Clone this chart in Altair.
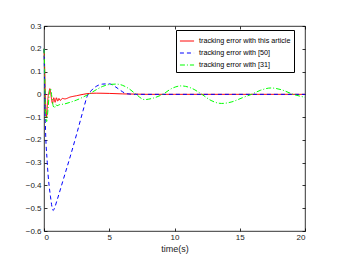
import altair as alt
import pandas as pd

series_names = ["tracking error with this article", "tracking error with [50]", "tracking error with [31]"]
colors = ["#ff0000", "#0000ff", "#00ff00"]
dashes = [[1, 0], [4, 3], [5, 2, 1, 2]]

t_red = [0, 0.05, 0.1, 0.15, 0.2, 0.25, 0.3, 0.4, 0.45, 0.55, 0.65, 0.75, 0.85, 0.95, 1.05, 1.15, 1.25, 1.4, 1.6, 2.0, 2.5, 3.0, 3.5, 4.0, 5.0, 6.0, 7.0, 8.0, 10, 12, 15, 20]
v_red = [0.2, 0.12, 0.0, -0.07, -0.1, -0.06, -0.02, 0.015, 0.025, -0.01, -0.04, -0.015, -0.035, -0.015, -0.03, -0.018, -0.027, -0.018, -0.02, -0.012, -0.006, 0.0, 0.004, 0.005, 0.004, 0.002, 0.001, 0.0, 0.0, 0.0, 0.0, 0.0]

t_blue = [0, 0.05, 0.1, 0.25, 0.5, 0.7, 0.8, 1.0, 1.5, 2.0, 2.5, 3.0, 3.3, 3.6, 4.0, 4.5, 5.0, 5.5, 6.0, 6.3, 7.0, 10, 15, 20]
v_blue = [0.2, 0.05, -0.12, -0.3, -0.45, -0.51, -0.5, -0.465, -0.37, -0.275, -0.175, -0.07, -0.01, 0.015, 0.035, 0.045, 0.046, 0.032, 0.012, 0.003, 0.0, 0.0, 0.0, 0.0]

t_green = [0, 0.05, 0.1, 0.2, 0.3, 0.4, 0.5, 0.6, 0.7, 0.8, 0.9, 1.0, 1.2, 1.5, 2.0, 2.5, 3.0, 3.5, 4.0, 4.5, 5.0, 5.5, 6.0, 6.5, 7.0, 7.7, 8.4, 9.1, 9.8, 10.5, 11.3, 12.1, 12.8, 13.6, 14.4, 15.2, 15.9, 16.6, 17.4, 18.2, 19.1, 20]
v_green = [0.2, 0.1, -0.05, -0.12, -0.07, 0.0, 0.025, -0.01, -0.05, -0.06, -0.045, -0.05, -0.045, -0.043, -0.035, -0.025, -0.012, 0.003, 0.02, 0.035, 0.043, 0.045, 0.04, 0.025, 0.003, -0.023, -0.016, 0.0, 0.026, 0.037, 0.027, 0.0, -0.027, -0.04, -0.033, -0.015, 0.0, 0.018, 0.028, 0.02, 0.0, -0.013]

rows = []
for name, ts, vs in [(series_names[0], t_red, v_red), (series_names[1], t_blue, v_blue), (series_names[2], t_green, v_green)]:
    for i, (t, v) in enumerate(zip(ts, vs)):
        rows.append({"series": name, "t": t, "v": v, "i": i})
df = pd.DataFrame(rows)

font = "Liberation Sans"

xscale = alt.Scale(domain=[0, 20], nice=False, zero=False)
yscale = alt.Scale(domain=[-0.6, 0.3], nice=False, zero=False)

lines = alt.Chart(df).mark_line(strokeWidth=1, interpolate="monotone").encode(
    x=alt.X("t:Q", scale=xscale,
            axis=alt.Axis(orient="bottom", values=[0, 5, 10, 15, 20], title="time(s)", domain=False,
                          offset=-3, tickSize=3, labelPadding=2, grid=False,
                          labelFont=font, labelFontSize=8, labelColor="#222",
                          titleFont=font, titleFontSize=9, titleFontWeight="normal", titlePadding=3, titleColor="#222")),
    y=alt.Y("v:Q", scale=yscale,
            axis=alt.Axis(orient="left", values=[-0.6, -0.5, -0.4, -0.3, -0.2, -0.1, 0, 0.1, 0.2, 0.3],
                          title=None, domain=False, offset=-3, tickSize=3, labelPadding=3, grid=False,
                          labelFont=font, labelFontSize=8, labelColor="#222",
                          labelExpr="datum.value == 0 ? '0' : format(datum.value, '.1f')")),
    color=alt.Color("series:N", scale=alt.Scale(domain=series_names, range=colors),
                    legend=alt.Legend(title=None, orient="none", legendX=132, legendY=4,
                                      symbolType="stroke", symbolSize=200, symbolStrokeWidth=1,
                                      labelFont=font, labelFontSize=7.2, labelLimit=200,
                                      strokeColor="#000", fillColor="#fff", padding=3, rowPadding=0,
                                      labelOffset=4)),
    strokeDash=alt.StrokeDash("series:N", scale=alt.Scale(domain=series_names, range=dashes), legend=None),
    order="i:Q",
)

frame = alt.Chart(df).mark_line(strokeOpacity=0).encode(
    x=alt.X("t:Q", scale=xscale,
            axis=alt.Axis(orient="top", values=[0, 5, 10, 15, 20], labels=False, title=None, domain=False,
                          offset=-3, tickSize=3, grid=False)),
    y=alt.Y("v:Q", scale=yscale,
            axis=alt.Axis(orient="right", values=[-0.6, -0.5, -0.4, -0.3, -0.2, -0.1, 0, 0.1, 0.2, 0.3],
                          labels=False, title=None, domain=False, offset=-3, tickSize=3, grid=False)),
    detail="series:N",
    order="i:Q",
)

chart = alt.layer(frame, lines).resolve_axis(x="independent", y="independent").properties(
    width=261, height=205,
    autosize=alt.AutoSizeParams(type="none"),
    padding={"left": 36, "top": 18, "right": 20, "bottom": 30},
).configure_view(stroke="#000", strokeWidth=0.8).configure_axis(tickColor="#000", tickWidth=0.8)

chart.save("out.html", embed_options={"renderer": "svg", "actions": False})
